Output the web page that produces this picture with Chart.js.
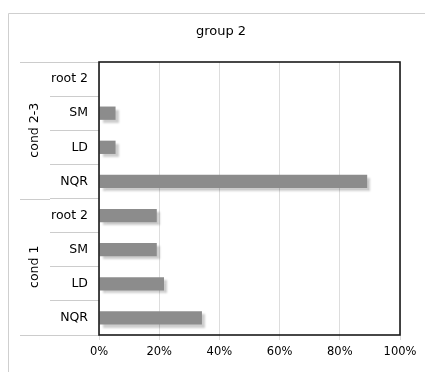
<!DOCTYPE html>
<html lang="en">
<head>
    <meta charset="UTF-8">
    <title>group 2</title>
    <script src="https://cdn.jsdelivr.net/npm/chart.js"></script>
    <style>
        body, html {
            margin: 0;
            padding: 0;
            width: 425px;
            height: 372px;
            overflow: hidden;
            background: #fff;
            font-family: "DejaVu Sans", Verdana, sans-serif;
        }
        #wrap { width: 425px; height: 372px; }
    </style>
</head>
<body>
    <div id="wrap"><canvas id="groupChart"></canvas></div>

    <script>
        const title = "group 2";
        const categories = ["root 2", "SM", "LD", "NQR", "root 2", "SM", "LD", "NQR"];
        const values = [0, 5.5, 5.5, 89.1, 19.2, 19.2, 21.6, 34.2];
        const groups = ["cond 2-3", "cond 1"];
        const groupSizes = [4, 4];
        const xTicks = [0, 20, 40, 60, 80, 100];

        const decor = {
            id: 'decor',
            beforeDraw(chart) {
                const ctx = chart.ctx;
                ctx.save();
                ctx.strokeStyle = '#cfcfcf';
                ctx.lineWidth = 1;
                ctx.beginPath();
                ctx.moveTo(8.5, 372);
                ctx.lineTo(8.5, 13.5);
                ctx.lineTo(425, 13.5);
                ctx.stroke();
                ctx.fillStyle = '#000';
                ctx.font = '13px "DejaVu Sans"';
                ctx.textAlign = 'center';
                ctx.textBaseline = 'middle';
                ctx.fillText(title, 221, 32);
                ctx.restore();
            },
            beforeDatasetsDraw(chart) {
                const ctx = chart.ctx;
                ctx.save();
                ctx.shadowColor = 'rgba(0,0,0,0.2)';
                ctx.shadowOffsetX = 3;
                ctx.shadowOffsetY = 3;
                ctx.shadowBlur = 2;
            },
            afterDatasetsDraw(chart) {
                chart.ctx.restore();
            },
            afterDraw(chart) {
                const ctx = chart.ctx;
                const a = chart.chartArea;
                const rowH = (a.bottom - a.top) / categories.length;
                ctx.save();
                ctx.strokeStyle = '#cccccc';
                ctx.lineWidth = 1;
                let start = 0;
                const bounds = [0];
                groupSizes.forEach(n => { start += n; bounds.push(start); });
                bounds.forEach(b => {
                    const yy = Math.round(a.top + b * rowH) + 0.5;
                    ctx.beginPath();
                    ctx.moveTo(20, yy);
                    ctx.lineTo(50, yy);
                    ctx.stroke();
                });
                ctx.fillStyle = '#000';
                ctx.font = '12.5px "DejaVu Sans"';
                ctx.textAlign = 'center';
                ctx.textBaseline = 'middle';
                groups.forEach((g, i) => {
                    const yc = a.top + (bounds[i] + bounds[i + 1]) / 2 * rowH;
                    ctx.save();
                    ctx.translate(35, yc);
                    ctx.rotate(-Math.PI / 2);
                    ctx.fillText(g, 0, 0);
                    ctx.restore();
                });
                ctx.strokeStyle = '#1a1a1a';
                ctx.lineWidth = 1.6;
                ctx.strokeRect(a.left, a.top, a.right - a.left, a.bottom - a.top);
                ctx.restore();
            }
        };

        const ctxGroup = document.getElementById('groupChart').getContext('2d');
        new Chart(ctxGroup, {
            type: 'bar',
            data: {
                labels: categories,
                datasets: [{
                    data: values,
                    backgroundColor: '#8c8c8c',
                    borderWidth: 0,
                    barPercentage: 0.39,
                    categoryPercentage: 1
                }]
            },
            options: {
                indexAxis: 'y',
                animation: false,
                responsive: true,
                maintainAspectRatio: false,
                layout: { padding: { top: 62, right: 25, left: 0, bottom: 0 } },
                scales: {
                    x: {
                        min: 0,
                        max: 100,
                        afterBuildTicks: (s) => { s.ticks = xTicks.map(v => ({ value: v })); },
                        afterFit: (s) => { s.height = 37; },
                        grid: { color: '#dddddd', tickLength: 5 },
                        border: { display: false },
                        ticks: {
                            callback: (v) => v + '%',
                            color: '#000',
                            padding: 5,
                            maxRotation: 0,
                            font: { family: 'DejaVu Sans', size: 11.5 }
                        }
                    },
                    y: {
                        afterFit: (s) => { s.width = 99; },
                        grid: { color: '#cccccc', drawOnChartArea: false, tickLength: 49 },
                        border: { display: false },
                        ticks: {
                            color: '#000',
                            padding: -38,
                            font: { family: 'DejaVu Sans', size: 12.5 }
                        }
                    }
                },
                plugins: {
                    legend: { display: false },
                    title: { display: false },
                    tooltip: { enabled: false }
                }
            },
            plugins: [decor]
        });
    </script>
</body>
</html>
